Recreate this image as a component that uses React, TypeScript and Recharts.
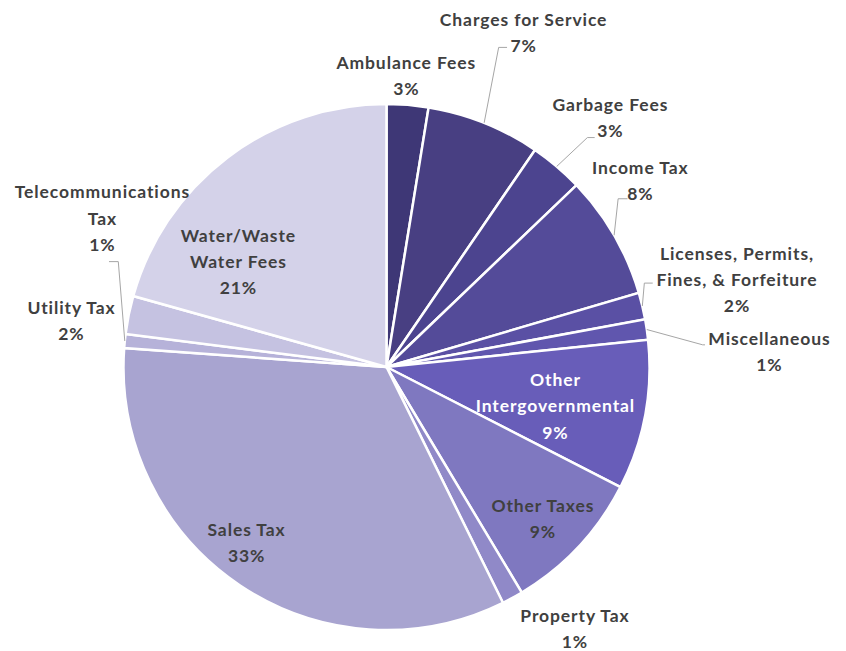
import React from "react";
import { PieChart, Pie, Cell } from "recharts";

const categories = [
  "Ambulance Fees",
  "Charges for Service",
  "Garbage Fees",
  "Income Tax",
  "Licenses, Permits, Fines, & Forfeiture",
  "Miscellaneous",
  "Other Intergovernmental",
  "Other Taxes",
  "Property Tax",
  "Sales Tax",
  "Telecommunications Tax",
  "Utility Tax",
  "Water/Waste Water Fees",
];

const shares = [2.56, 6.99, 3.3, 7.6, 1.65, 1.25, 9.2, 8.85, 1.3, 33.45, 0.85, 2.35, 20.65];

const labelLines = [
  ["Ambulance Fees"],
  ["Charges for Service"],
  ["Garbage Fees"],
  ["Income Tax"],
  ["Licenses, Permits,", "Fines, & Forfeiture"],
  ["Miscellaneous"],
  ["Other", "Intergovernmental"],
  ["Other Taxes"],
  ["Property Tax"],
  ["Sales Tax"],
  ["Telecommunications", "Tax"],
  ["Utility Tax"],
  ["Water/Waste", "Water Fees"],
];

const colors = [
  "#3e3776",
  "#483f82",
  "#4c448f",
  "#544b99",
  "#5a50a4",
  "#6056ae",
  "#685db9",
  "#7f78c0",
  "#9089c8",
  "#a8a4d0",
  "#b6b2d9",
  "#c5c2e1",
  "#d4d2e9",
];

// label placement relative to slice outer-edge midpoint (styling only)
const labelOffsets: [number, number][] = [
  [-1.8, -42.5],
  [39, -103.7],
  [53.2, -62.2],
  [25.7, -67.8],
  [94.2, -52.9],
  [122.2, 8.6],
  [-90, -36],
  [-36.1, -41.1],
  [62, 17.5],
  [6.4, -56.1],
  [-22.8, -149.1],
  [-57.7, -7.8],
  [10.3, 77.8],
];

const leaderOffsets: ([number, number][] | null)[] = [
  null,
  [[14.5, -75.4], [22.9, -75.4]],
  [[30.7, -28.9], [38, -28.9]],
  [[4, -36.5], [13.4, -36.5]],
  [[2, -22.9], [10.4, -22.9]],
  [[55.9, 15.3], [58.2, 15.3]],
  null,
  null,
  null,
  null,
  [[-6.5, -79.4], [-15.8, -79.4]],
  null,
  null,
];

const whiteLabel = [false, false, false, false, false, false, true, false, false, false, false, false, false];

const data = categories.map((name, i) => ({ name, value: shares[i] }));

const RAD = Math.PI / 180;
const LINE_H = 26.3;

const renderLabel = (props: any) => {
  const { cx, cy, midAngle, outerRadius, index, percent } = props;
  const R = outerRadius;
  const ax = cx + R * Math.cos(-midAngle * RAD);
  const ay = cy + R * Math.sin(-midAngle * RAD);
  const [dx, dy] = labelOffsets[index];
  const lx = ax + dx;
  const ly = ay + dy;
  const lines = [...labelLines[index], `${Math.round(percent * 100)}%`];
  const leader = leaderOffsets[index];
  const fill = whiteLabel[index] ? "#ffffff" : "#404040";
  return (
    <g key={`lbl-${index}`}>
      {leader && (
        <polyline
          points={[[0, 0], ...leader].map(([px, py]) => `${ax + px},${ay + py}`).join(" ")}
          fill="none"
          stroke="#a6a6a6"
          strokeWidth={1}
        />
      )}
      {lines.map((t, k) => (
        <text
          key={k}
          x={lx + 0.45}
          y={ly + k * LINE_H}
          textAnchor="middle"
          dominantBaseline="central"
          fill={fill}
          fontFamily="Lato, 'Open Sans', sans-serif"
          fontWeight={700}
          fontSize={17.5}
          letterSpacing={0.9}
        >
          {t}
        </text>
      ))}
    </g>
  );
};

export default function App() {
  return (
    <div style={{ position: "absolute", left: 0, top: 0, width: 846, height: 651, background: "#fff" }}>
      <PieChart width={846} height={651} margin={{ top: 0, right: 0, bottom: 0, left: 0 }}>
        <Pie
          data={data}
          dataKey="value"
          nameKey="name"
          cx={386.5}
          cy={367}
          outerRadius={263}
          startAngle={90}
          endAngle={-270}
          stroke="#ffffff"
          strokeWidth={2.5}
          labelLine={false}
          label={renderLabel}
          isAnimationActive={false}
        >
          {data.map((d, i) => (
            <Cell key={d.name} fill={colors[i]} />
          ))}
        </Pie>
      </PieChart>
    </div>
  );
}
